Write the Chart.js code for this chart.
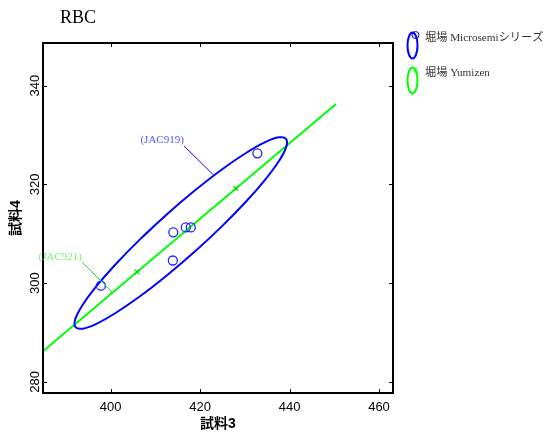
<!DOCTYPE html>
<html>
<head>
<meta charset="utf-8">
<script src="https://cdn.jsdelivr.net/npm/chart.js@4"></script>
<style>
  body { margin: 0; background: #fff; }
</style>
</head>
<body>
<canvas id="rbcChart" width="548" height="436"></canvas>
<script>
// RBC: 試料3 vs 試料4
const microsemiX = [397.8, 413.9, 414.0, 416.8, 417.9, 432.8];
const microsemiY = [299.5, 304.6, 310.3, 311.3, 311.3, 326.3];
// outline of the Microsemi ellipse, read around the curve
const ellipseX = [412.59, 406.60, 401.21, 396.82, 393.72, 392.10, 392.10, 393.70, 396.80, 401.18, 406.55, 412.54,
    418.75, 424.74, 430.13, 434.52, 437.62, 439.24, 439.24, 437.64, 434.54, 430.16, 424.79, 418.80, 412.59, 406.60];
const ellipseY = [313.98, 308.93, 303.95, 299.40, 295.60, 292.78, 291.14, 290.80, 291.78, 294.02, 297.35, 301.57,
    306.36, 311.41, 316.39, 320.94, 324.74, 327.56, 329.20, 329.54, 328.56, 326.32, 322.99, 318.77, 313.98, 308.93];
const yumizenX = [405.9, 428.0];
const yumizenY = [302.3, 319.2];
const fitX = [380.0, 450.4];
const fitY = [282.5, 336.3];
const xTicks = [400, 420, 440, 460];
const yTicks = [280, 300, 320, 340];
const seriesNames = ['堀場 Microsemiシリーズ', '堀場 Yumizen'];
const calloutLabels = ['(JAC919)', '(JAC921)'];

const BLUE = '#0000ff';
const GREEN = '#00ff00';

const toPoints = (xs, ys) => xs.map((v, i) => ({ x: v, y: ys[i] }));

// callouts: text anchor + leader line, in data units
const callouts = [
    { text: calloutLabels[0], at: [411.5, 329.0], from: [416.4, 327.8], to: [422.9, 322.0], color: '#5555ff', line: BLUE },
    { text: calloutLabels[1], at: [388.7, 305.3], from: [393.6, 304.3], to: [400.3, 298.2], color: '#77ee77', line: '#22dd22' }
];

const decorPlugin = {
    id: 'decor',
    afterDraw(chart) {
        const { ctx, chartArea: a, scales: { x, y } } = chart;
        ctx.save();
        // frame with inward ticks
        ctx.strokeStyle = '#000';
        ctx.lineWidth = 2;
        ctx.strokeRect(a.left, a.top, a.right - a.left, a.bottom - a.top);
        ctx.lineWidth = 1;
        ctx.beginPath();
        x.ticks.forEach(t => {
            const px = Math.round(x.getPixelForValue(t.value)) + 0.5;
            ctx.moveTo(px, a.bottom); ctx.lineTo(px, a.bottom - 4);
            ctx.moveTo(px, a.top); ctx.lineTo(px, a.top + 4);
        });
        y.ticks.forEach(t => {
            const py = Math.round(y.getPixelForValue(t.value)) + 0.5;
            ctx.moveTo(a.left, py); ctx.lineTo(a.left + 4, py);
            ctx.moveTo(a.right, py); ctx.lineTo(a.right - 4, py);
        });
        ctx.stroke();

        // callouts
        ctx.font = '11px "Liberation Serif", serif';
        ctx.textAlign = 'center';
        ctx.textBaseline = 'middle';
        callouts.forEach(c => {
            ctx.strokeStyle = c.line;
            ctx.lineWidth = 1;
            ctx.beginPath();
            ctx.moveTo(x.getPixelForValue(c.from[0]), y.getPixelForValue(c.from[1]));
            ctx.lineTo(x.getPixelForValue(c.to[0]), y.getPixelForValue(c.to[1]));
            ctx.stroke();
            ctx.fillStyle = c.color;
            ctx.fillText(c.text, x.getPixelForValue(c.at[0]), y.getPixelForValue(c.at[1]));
        });

        // title
        ctx.fillStyle = '#000';
        ctx.textAlign = 'left';
        ctx.textBaseline = 'alphabetic';
        ctx.font = '18px "Liberation Serif", serif';
        ctx.fillText('RBC', 60, 23);

        // legend
        const rows = [
            { cy: 45.5, color: BLUE, text: seriesNames[0], marker: 'circle' },
            { cy: 80.5, color: GREEN, text: seriesNames[1], marker: 'cross' }
        ];
        rows.forEach(r => {
            ctx.strokeStyle = r.color;
            ctx.lineWidth = 2;
            ctx.beginPath();
            ctx.ellipse(412.5, r.cy, 5, 13, 0, 0, Math.PI * 2);
            ctx.stroke();
            ctx.lineWidth = 1;
            ctx.beginPath();
            if (r.marker === 'circle') {
                ctx.arc(415.5, r.cy - 10.5, 3.5, 0, Math.PI * 2);
            } else {
                ctx.moveTo(413, r.cy - 13); ctx.lineTo(418, r.cy - 8);
                ctx.moveTo(418, r.cy - 13); ctx.lineTo(413, r.cy - 8);
            }
            ctx.stroke();
            ctx.fillStyle = '#333';
            ctx.font = '11.2px "Liberation Serif", "Noto Sans CJK JP", serif';
            ctx.textBaseline = 'middle';
            ctx.fillText(r.text, 425, r.cy - 7.5);
        });
        ctx.restore();
    }
};

new Chart(document.getElementById('rbcChart'), {
    type: 'scatter',
    data: {
        // first dataset is drawn on top
        datasets: [
            {
                label: seriesNames[1],
                data: toPoints(yumizenX, yumizenY),
                pointStyle: 'crossRot',
                pointRadius: 3.5,
                borderColor: '#00cc00',
                borderWidth: 1.2
            },
            {
                label: seriesNames[0],
                data: toPoints(microsemiX, microsemiY),
                pointStyle: 'circle',
                pointRadius: 4.5,
                borderColor: '#2222ff',
                borderWidth: 1.3,
                backgroundColor: 'rgba(0,0,0,0)'
            },
            {
                label: 'ellipse',
                data: toPoints(ellipseX, ellipseY),
                showLine: true,
                borderColor: BLUE,
                borderWidth: 2,
                pointRadius: 0,
                tension: 0.4,
                fill: false
            },
            {
                label: 'fit',
                data: toPoints(fitX, fitY),
                showLine: true,
                borderColor: GREEN,
                borderWidth: 2,
                pointRadius: 0,
                clip: 0
            }
        ]
    },
    options: {
        responsive: false,
        animation: false,
        devicePixelRatio: 1,
        layout: { padding: { left: 0, right: 155, top: 43, bottom: 0 } },
        plugins: {
            legend: { display: false },
            tooltip: { enabled: false }
        },
        scales: {
            x: {
                type: 'linear',
                min: 384.86,
                max: 463.13,
                afterBuildTicks: s => { s.ticks = xTicks.map(v => ({ value: v })); },
                afterFit: s => { s.height = 43; },
                grid: { display: false, drawTicks: false },
                border: { display: false },
                ticks: {
                    color: '#000',
                    padding: 7,
                    maxRotation: 0,
                    font: { family: '"Liberation Sans", Arial, sans-serif', size: 13 }
                },
                title: {
                    display: true,
                    text: '試料3',
                    color: '#000',
                    padding: { top: 0, bottom: 3 },
                    font: { family: '"Liberation Sans", "Noto Sans CJK JP", sans-serif', size: 14, weight: 'bold', lineHeight: 1.2 }
                }
            },
            y: {
                type: 'linear',
                min: 277.77,
                max: 348.65,
                afterBuildTicks: s => { s.ticks = yTicks.map(v => ({ value: v })); },
                afterFit: s => { s.width = 43; },
                grid: { display: false, drawTicks: false },
                border: { display: false },
                ticks: {
                    color: '#000',
                    padding: -3.5,
                    minRotation: 90,
                    maxRotation: 90,
                    crossAlign: 'center',
                    font: { family: '"Liberation Sans", Arial, sans-serif', size: 13 }
                },
                title: {
                    display: true,
                    text: '試料4',
                    color: '#000',
                    padding: { top: 7.6, bottom: 0 },
                    font: { family: '"Liberation Sans", "Noto Sans CJK JP", sans-serif', size: 14, weight: 'bold', lineHeight: 1.2 }
                }
            }
        }
    },
    plugins: [decorPlugin]
});
</script>
</body>
</html>
